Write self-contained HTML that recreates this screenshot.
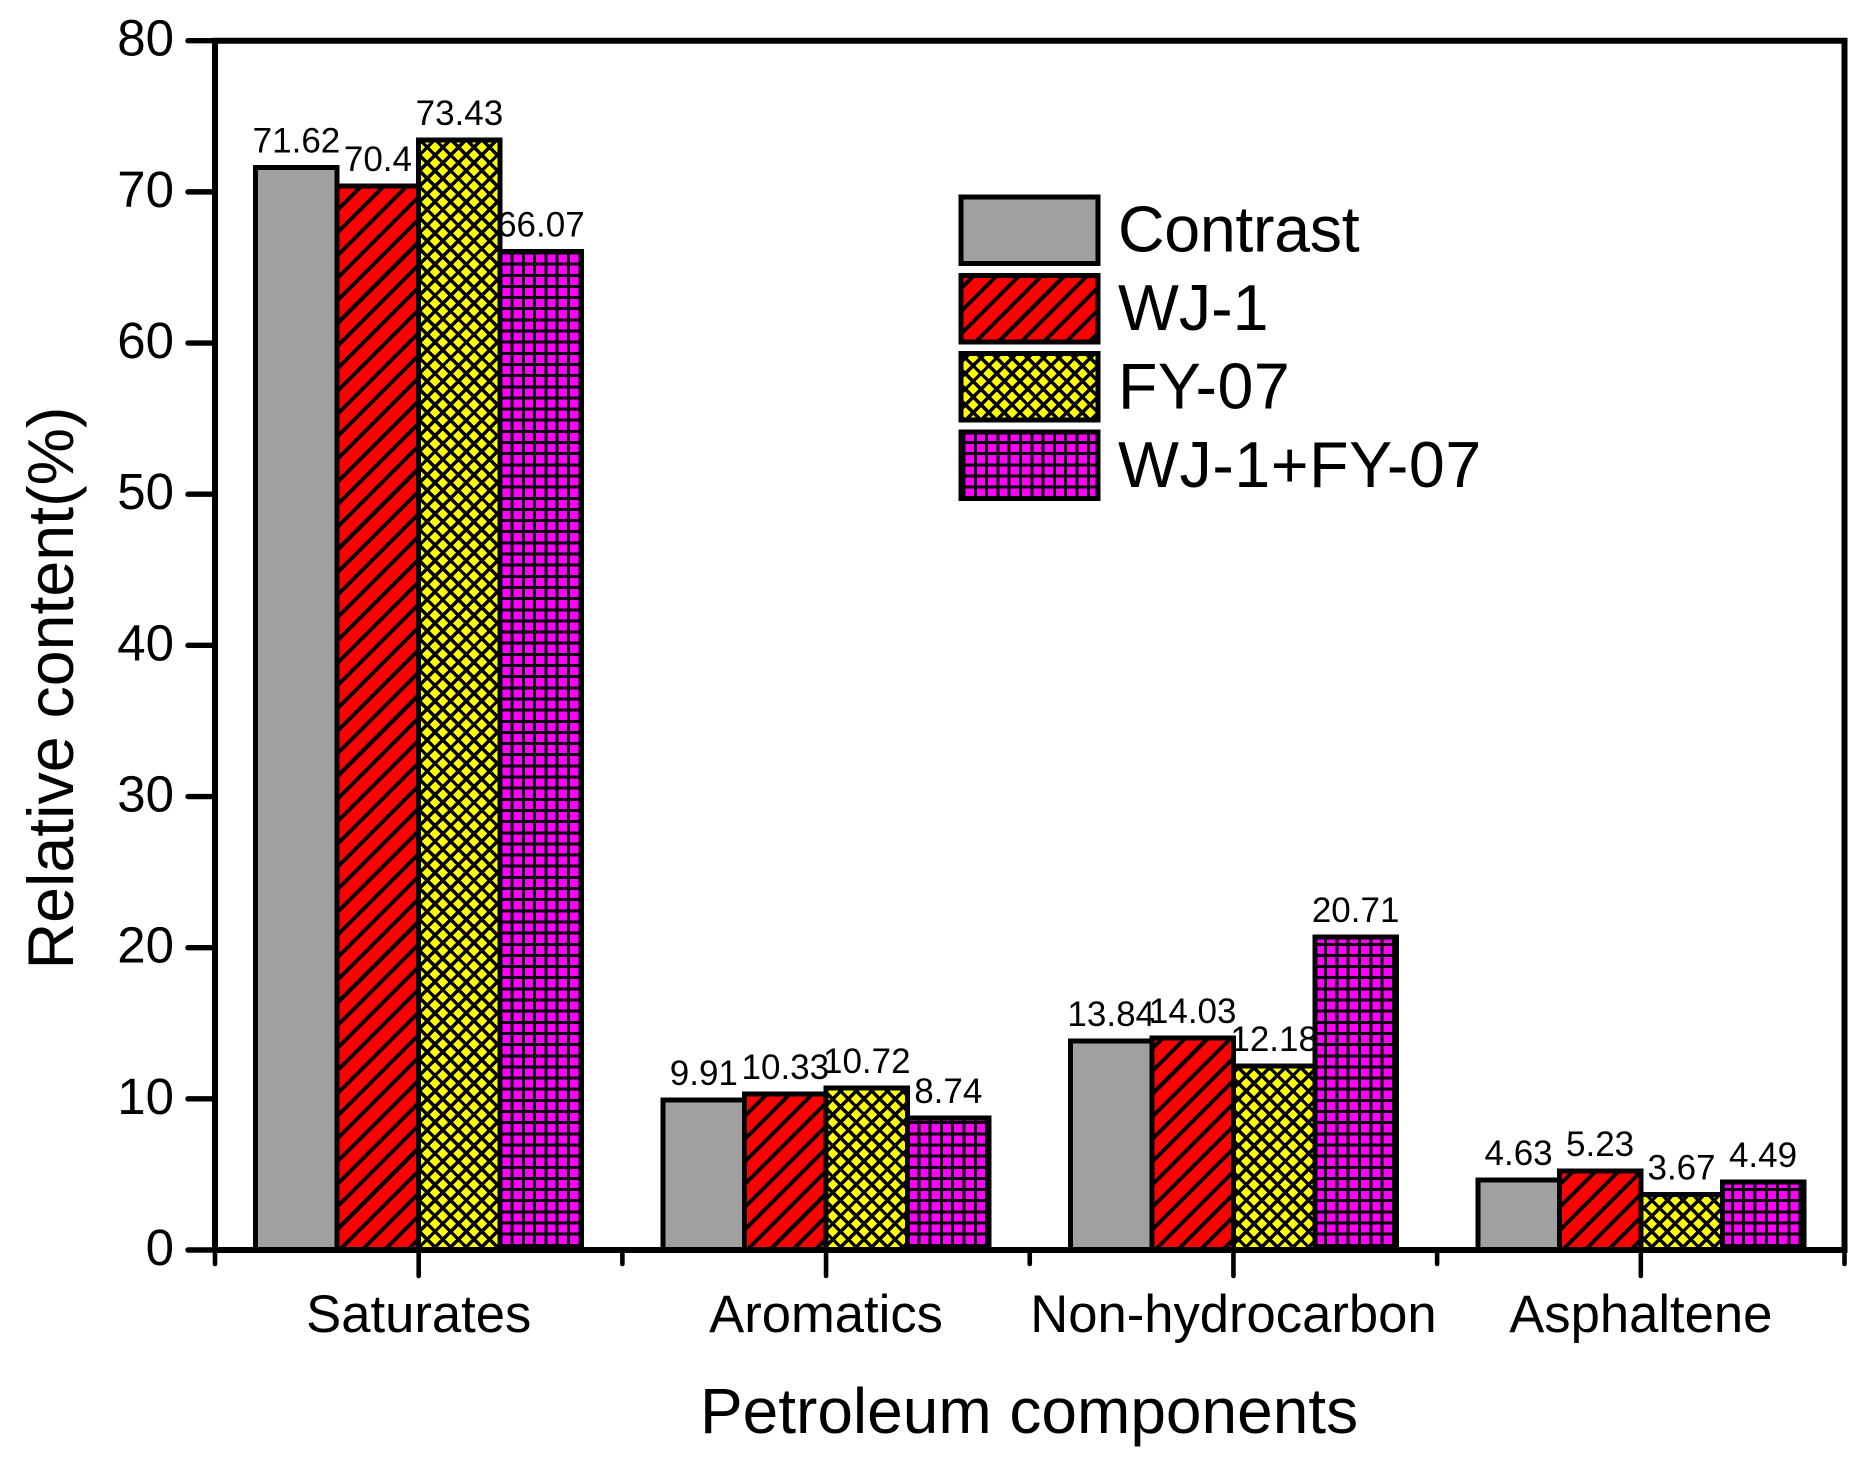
<!DOCTYPE html>
<html lang="en">
<head>
<meta charset="utf-8">
<title>Relative content of petroleum components</title>
<style>
  html, body { margin: 0; padding: 0; background: #fff; }
  body { width: 1876px; height: 1466px; overflow: hidden; }
  svg { display: block; }
  text { font-family: "Liberation Sans", Arial, sans-serif; fill: #000; }
</style>
</head>
<body>
<svg id="chart" xmlns="http://www.w3.org/2000/svg" width="1876" height="1466" viewBox="0 0 1876 1466">
  <defs id="clip-defs"></defs>
  <g id="labels-layer"></g>
  <g id="fills-layer"></g>
  <g id="hatch-layer"></g>
  <g id="outlines-layer"></g>
  <g id="axes-layer"></g>
  <g id="legend-layer"></g>
  <text x="0" y="0" transform="translate(73 688) rotate(-90)" text-anchor="middle" font-size="64.5">Relative content(%)</text>
  <text x="1029" y="1433" text-anchor="middle" font-size="64">Petroleum components</text>
</svg>
<script>
const categories = ["Saturates", "Aromatics", "Non-hydrocarbon", "Asphaltene"];
const seriesNames = ["Contrast", "WJ-1", "FY-07", "WJ-1+FY-07"];
const contrastValues = [71.62, 9.91, 13.84, 4.63];
const wj1Values = [70.4, 10.33, 14.03, 5.23];
const fy07Values = [73.43, 10.72, 12.18, 3.67];
const comboValues = [66.07, 8.74, 20.71, 4.49];
const yTickLabels = [0, 10, 20, 30, 40, 50, 60, 70, 80];

const seriesValues = [contrastValues, wj1Values, fy07Values, comboValues];
const seriesFills = ["#a0a0a0", "#ff0000", "#ffff00", "#ff00ff"];
const seriesKeys = ["contrast", "wj-1", "fy-07", "wj-1-fy-07"];

const SVG_NS = "http://www.w3.org/2000/svg";
const plotLeft = 215, plotRight = 1844.5, plotTop = 40.7, plotBottom = 1250;
const yMin = 0, yMax = 80;
const groupWidth = (plotRight - plotLeft) / categories.length;
const barWidth = groupWidth * 0.2;

function yScale(v) {
  return plotBottom - (v - yMin) / (yMax - yMin) * (plotBottom - plotTop);
}
function xCenter(c) {
  return plotLeft + groupWidth * (c + 0.5);
}
function xBar(c, s) {
  return xCenter(c) + (s - seriesValues.length / 2) * barWidth;
}
function make(tag, attrs, parent) {
  const el = document.createElementNS(SVG_NS, tag);
  for (const k in attrs) el.setAttribute(k, attrs[k]);
  parent.appendChild(el);
  return el;
}

const clipDefs = document.getElementById("clip-defs");
const labelsLayer = document.getElementById("labels-layer");
const fillsLayer = document.getElementById("fills-layer");
const hatchLayer = document.getElementById("hatch-layer");
const outlinesLayer = document.getElementById("outlines-layer");
const axesLayer = document.getElementById("axes-layer");
const legendLayer = document.getElementById("legend-layer");

const clips = seriesKeys.map(function (key) {
  return make("clipPath", { id: "clip-" + key }, clipDefs);
});

function addBox(s, x, y, w, h, name) {
  const fill = make("rect", { x: x, y: y, width: w, height: h, fill: seriesFills[s] }, fillsLayer);
  
  
  make("rect", { x: x, y: y, width: w, height: h }, clips[s]);
  const outline = make("rect", { x: x, y: y, width: w, height: h, fill: "none", stroke: "#000", "stroke-width": 5, "shape-rendering": "crispEdges" }, outlinesLayer);
  
  
}

seriesValues.forEach(function (values, s) {
  values.forEach(function (v, c) {
    const label = make("text", { x: xBar(c, s) + barWidth / 2, y: yScale(v) - 15, "text-anchor": "middle", "font-size": 35 }, labelsLayer);
    label.textContent = String(v);
    
    
    addBox(s, xBar(c, s), yScale(v), barWidth, plotBottom - yScale(v), 'bar-' + seriesKeys[s]);
  });
});

const legendTops = [197, 275.5, 353.5, 432];
const legendBaselines = [251.7, 330, 408.7, 487];
const legendTracking = [-0.3, 0, 0.5, 0.6];
seriesNames.forEach(function (name, s) {
  addBox(s, 961, legendTops[s], 137, 66.5, 'legend-swatch-' + seriesKeys[s]);
  const entry = make("text", { x: 1118, y: legendBaselines[s], "font-size": 64.5, "letter-spacing": legendTracking[s] }, legendLayer);
  entry.textContent = name;
  
  
});

function hatchGroup(key) {
  const g = make("g", { "clip-path": "url(#clip-" + key + ")", stroke: "#000", fill: "none", "shape-rendering": "crispEdges" }, hatchLayer);
  
  
  return g;
}
function hatchLine(g, x1, y1, x2, y2, width) {
  const ln = make("line", { x1: x1, y1: y1, x2: x2, y2: y2, "stroke-width": width }, g);
  
  
}

const hatchH = 1300;
const redGroup = hatchGroup("wj-1");
for (let c = 3.9; c < 1876 + hatchH; c += 22.65) hatchLine(redGroup, c, 0, c - hatchH, hatchH, 3.9);
const yellowGroup = hatchGroup("fy-07");
for (let c = 12.9; c < 1876 + hatchH; c += 15.6) hatchLine(yellowGroup, c, 0, c - hatchH, hatchH, 3.4);
for (let c = 4.3; c < 1876 + hatchH; c += 15.6) hatchLine(yellowGroup, c - hatchH, 0, c, hatchH, 3.4);
const magentaGroup = hatchGroup("wj-1-fy-07");
for (let x = 3.5; x < 1876; x += 11.3) hatchLine(magentaGroup, x, 0, x, hatchH, 3);
for (let y = 7.65; y < hatchH; y += 11.15) hatchLine(magentaGroup, 0, y, 1876, y, 3);

const frame = make("path", { d: "M" + plotLeft + "," + plotBottom + " V" + plotTop + " H" + plotRight + " V" + plotBottom + " H" + plotLeft, fill: "none", stroke: "#000", "stroke-width": 6, "stroke-linejoin": "miter" }, axesLayer);



yTickLabels.forEach(function (t) {
  const tick = make("line", { x1: 188, x2: plotLeft, y1: yScale(t), y2: yScale(t), stroke: "#000", "stroke-width": 5.4, "stroke-linecap": "round" }, axesLayer);
  
  
  const tl = make("text", { x: 174, y: yScale(t) + 15, "text-anchor": "end", "font-size": 51 }, axesLayer);
  tl.textContent = String(t);
  
  
});

for (let i = 0; i <= categories.length; i++) {
  const x = plotLeft + groupWidth * i;
  const minor = make("line", { x1: x, x2: x, y1: plotBottom, y2: plotBottom + 14, stroke: "#000", "stroke-width": 4.6, "stroke-linecap": "round" }, axesLayer);
  
  
}

categories.forEach(function (name, c) {
  const major = make("line", { x1: xCenter(c), x2: xCenter(c), y1: plotBottom, y2: plotBottom + 26, stroke: "#000", "stroke-width": 4.6, "stroke-linecap": "round" }, axesLayer);
  
  
  const cl = make("text", { x: xCenter(c), y: 1332, "text-anchor": "middle", "font-size": 52.6 }, axesLayer);
  cl.textContent = name;
  
  
});
</script>
</body>
</html>
